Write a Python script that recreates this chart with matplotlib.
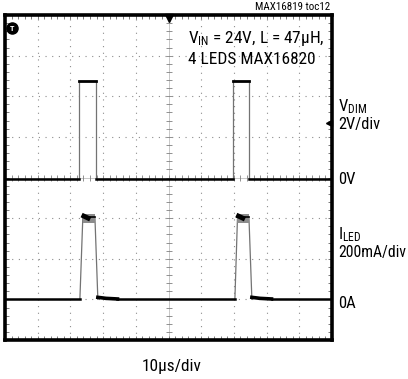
import matplotlib
matplotlib.use("Agg")
import matplotlib.pyplot as plt
from matplotlib import font_manager
from matplotlib.ticker import MultipleLocator

# pick a narrow face if one is installed
FONT = "Liberation Sans"
for cand in ["Roboto Condensed", "Archivo Narrow", "Liberation Sans Narrow"]:
    try:
        font_manager.findfont(cand, fallback_to_default=False)
        FONT = cand
        break
    except Exception:
        pass
plt.rcParams["font.family"] = [FONT, "DejaVu Sans"]
plt.rcParams["mathtext.fontset"] = "custom"
plt.rcParams["mathtext.rm"] = FONT
plt.rcParams["mathtext.it"] = FONT

# scope settings
time_per_div = 10.0  # us
vdim_per_div = 2.0  # V
iled_per_div = 200.0  # mA
vdim_offset = -0.04  # div, 0V marker
iled_offset = -3.0  # div, 0A marker

# VDIM pulses (us) and levels (V)
vdim_rise = [22.7, 69.7]
vdim_fall = [27.7, 74.6]
vdim_low = 0.0
vdim_high = 4.84

# ILED pulses (us) and levels (mA)
iled_rise_start = [22.9, 70.3]
iled_rise_end = [23.8, 71.1]
iled_fall_start = [27.5, 74.6]
iled_fall_end = [28.4, 75.5]
iled_low = 0.0
iled_high = 404.0
iled_ripple_hi = 418.0
iled_ripple_lo = 374.0
iled_tail = [10.0, 5.0, 2.0]  # mA just after the fall
iled_tail_t = [0.0, 2.5, 6.0]  # us after fall end


def px(x, y):
    return x / 408, 1 - y / 379


fig = plt.figure(figsize=(4.08, 3.79), dpi=100)
ax = fig.add_axes([5 / 408, 39 / 379, 327 / 408, 325 / 379])
ax.set_xlim(0, 10 * time_per_div)
ax.set_ylim(-4, 4)

# graticule
for i in range(1, 10):
    if i != 5:
        ax.axvline(i * time_per_div, color="0.55", lw=0.8, ls=(0, (1, 5)), zorder=1)
for j in range(-3, 4):
    if j != 0:
        ax.axhline(j, color="0.55", lw=0.8, ls=(0, (1, 5)), zorder=1)
ax.axvline(50, color="0.75", lw=0.6, zorder=1)
ax.axhline(0, color="0.75", lw=0.6, zorder=1)
sub_y = [-4 + k * 0.2 for k in range(41)]
sub_x = [k * 2.0 for k in range(51)]
ax.plot([50] * len(sub_y), sub_y, ls="none", marker="_", ms=4, mew=0.6,
        color="0.5", zorder=1)
ax.plot(sub_x, [0] * len(sub_x), ls="none", marker="|", ms=4, mew=0.6,
        color="0.5", zorder=1)

for s in ax.spines.values():
    s.set_linewidth(2.6)
ax.xaxis.set_major_locator(MultipleLocator(10))
ax.xaxis.set_minor_locator(MultipleLocator(2))
ax.yaxis.set_major_locator(MultipleLocator(1))
ax.yaxis.set_minor_locator(MultipleLocator(0.2))
ax.tick_params(which="both", direction="in", top=True, right=True, length=3,
               width=0.6, color="0.4", labelbottom=False, labelleft=False)

# VDIM trace
yl = vdim_low / vdim_per_div + vdim_offset
yh = vdim_high / vdim_per_div + vdim_offset
edges = [0] + [t for pair in zip(vdim_rise, vdim_fall) for t in pair] + [100]
for k in range(0, len(edges), 2):
    ax.plot([edges[k], edges[k + 1]], [yl, yl], color="black", lw=1.8, zorder=4)
for r, f in zip(vdim_rise, vdim_fall):
    ax.plot([r, r], [yl, yh], color="0.45", lw=0.9, zorder=3)
    ax.plot([f, f], [yl, yh], color="0.45", lw=0.9, zorder=3)
    ax.plot([r, f], [yh, yh], color="black", lw=2.0, zorder=4)

# ILED trace
il = iled_low / iled_per_div + iled_offset
ih = iled_high / iled_per_div + iled_offset
starts = [0] + [t + iled_tail_t[-1] for t in iled_fall_end]
stops = iled_rise_start + [100]
for a, b in zip(starts, stops):
    ax.plot([a, b], [il, il], color="black", lw=1.8, zorder=4)
for rs, re, fs, fe in zip(iled_rise_start, iled_rise_end, iled_fall_start, iled_fall_end):
    ax.plot([rs, re], [il, ih], color="0.45", lw=0.9, zorder=3)
    ax.plot([fs, fe], [ih, il], color="0.45", lw=0.9, zorder=3)
    ax.fill_between([re, fs],
                    [iled_ripple_lo / iled_per_div + iled_offset] * 2,
                    [iled_ripple_hi / iled_per_div + iled_offset] * 2,
                    color="0.55", lw=0, zorder=3)
    ax.plot([re, fs], [ih, ih], color="black", lw=1.2, zorder=4)
    ax.plot([re + 0.3, re + 1.6], [ih + 0.03, ih - 0.02], color="black", lw=3.5,
            zorder=4)
    tt = [fe + d for d in iled_tail_t]
    yy = [v / iled_per_div + iled_offset for v in iled_tail]
    ax.plot(tt, yy, color="black", lw=2.6, zorder=4)

# scope markers
ax.plot([50], [3.93], marker="v", ms=6, color="black", clip_on=False, zorder=5)
ax.plot([99.0], [1.35], marker="<", ms=4, color="black", clip_on=False, zorder=5)
ax.plot([2.2], [3.67], marker="o", ms=8, color="black", zorder=5)
ax.text(2.2, 3.67, "T", color="white", fontsize=6, fontweight="bold",
        ha="center", va="center", zorder=6)

# annotations
fig.text(*px(330, 7), "MAX16819 toc12", fontsize=7.9, ha="right", va="center")
fig.text(*px(188, 38), "V$_{\\mathrm{IN}}$ = 24V, L = 47\u00b5H,", fontsize=12.4,
         ha="left", va="center")
fig.text(*px(188, 59), "4 LEDS MAX16820", fontsize=12.4, ha="left", va="center")
fig.text(*px(338, 107), "V$_{\\mathrm{DIM}}$", fontsize=12, ha="left", va="center")
fig.text(*px(338, 125), "2V/div", fontsize=11.8, ha="left", va="center")
fig.text(*px(338, 180), "0V", fontsize=12, ha="left", va="center")
fig.text(*px(338, 235), "I$_{\\mathrm{LED}}$", fontsize=12, ha="left", va="center")
fig.text(*px(338, 253), "200mA/div", fontsize=11.3, ha="left", va="center")
fig.text(*px(338, 303), "0A", fontsize=12, ha="left", va="center")
fig.text(*px(172, 367), "10\u00b5s/div", fontsize=12.4, ha="center", va="center")

fig.savefig("out.png", dpi=100)
